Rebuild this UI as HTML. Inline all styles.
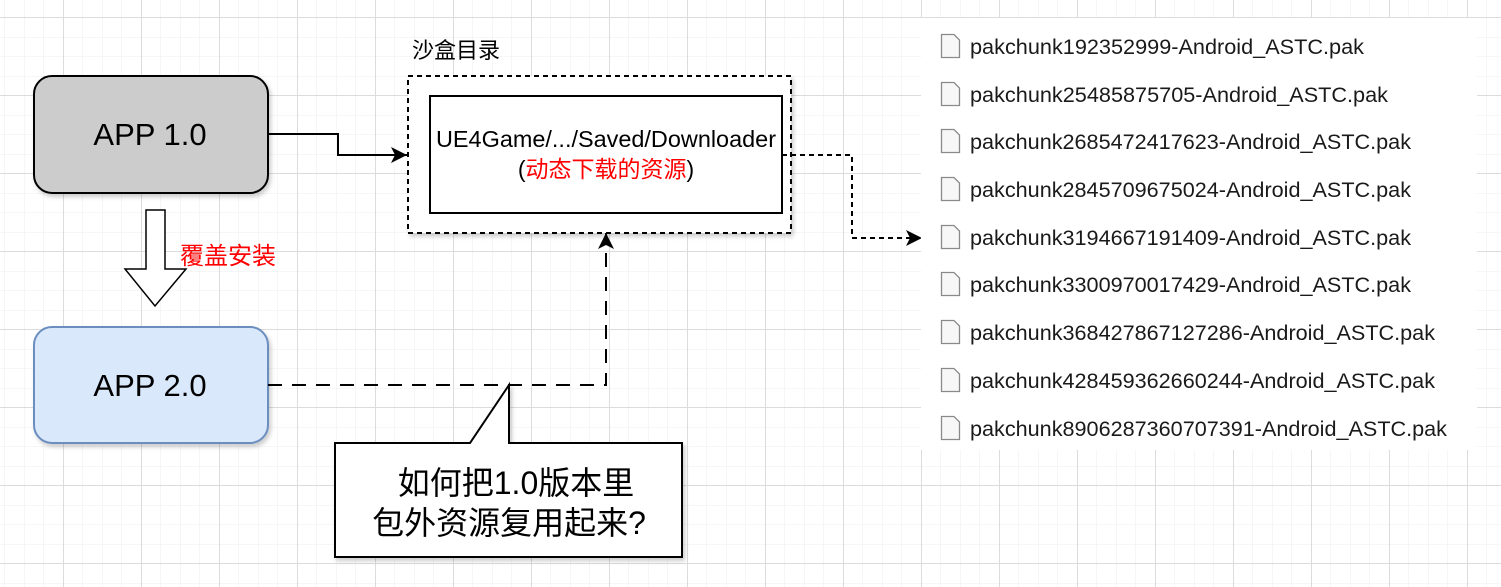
<!DOCTYPE html>
<html><head><meta charset="utf-8"><style>
html,body{margin:0;padding:0;background:#fff;}
svg{display:block;}
text{font-family:"Liberation Sans","Noto Sans CJK SC",sans-serif;}
</style></head><body>
<svg width="1501" height="587" viewBox="0 0 1501 587" xmlns="http://www.w3.org/2000/svg">
<defs>
<pattern id="minor" x="4.5" y="-2" width="19.5" height="19.5" patternUnits="userSpaceOnUse">
<path d="M0 0H19.5M0 0V19.5" stroke="#eeeeee" stroke-width="1" fill="none"/>
</pattern>
<pattern id="major" x="63" y="17" width="78" height="78" patternUnits="userSpaceOnUse">
<path d="M0.5 0V78M0 0.5H78" stroke="#dcdcdc" stroke-width="1" fill="none"/>
</pattern>
<filter id="sh" x="-10%" y="-10%" width="130%" height="130%"><feDropShadow dx="2" dy="3" stdDeviation="2" flood-color="#000" flood-opacity="0.2"/></filter>
<marker id="ar" markerWidth="18" markerHeight="16" refX="16" refY="8" orient="auto" markerUnits="userSpaceOnUse">
<path d="M0 0 L16 8 L0 16 L4 8 Z" fill="#000"/>
</marker>
</defs>
<rect width="1501" height="587" fill="#fff"/>
<rect width="1501" height="587" fill="url(#minor)"/>
<rect width="1501" height="587" fill="url(#major)"/>

<!-- APP 1.0 -->
<rect x="34" y="76" width="234" height="117" rx="18" fill="#cccccc" stroke="#000" stroke-width="2" filter="url(#sh)"/>
<text x="150" y="145" font-size="31" text-anchor="middle">APP 1.0</text>

<!-- APP 2.0 -->
<rect x="34" y="327" width="234" height="116" rx="18" fill="#dae8fc" stroke="#6c8ebf" stroke-width="2" filter="url(#sh)"/>
<text x="150" y="396" font-size="31" text-anchor="middle">APP 2.0</text>

<!-- hollow arrow -->
<path d="M146 210 H165 V269 H186 L155 306 L125 269 H146 Z" fill="#fff" stroke="#000" stroke-width="1.5"/>
<text x="180" y="264" font-size="24" fill="#ff0000">覆盖安装</text>

<!-- sandbox -->
<text x="412" y="58" font-size="22">沙盒目录</text>
<rect x="408" y="76" width="383" height="157" fill="#fff" stroke="#000" stroke-width="2" stroke-dasharray="5 4" filter="url(#sh)"/>
<rect x="430" y="96" width="352" height="117" fill="#fff" stroke="#000" stroke-width="2"/>
<text x="606" y="147" font-size="23" text-anchor="middle" textLength="340" lengthAdjust="spacingAndGlyphs">UE4Game/.../Saved/Downloader</text>
<text x="606" y="177" font-size="23" text-anchor="middle">(<tspan fill="#ff0000">动态下载的资源</tspan>)</text>

<!-- arrows -->
<path d="M268 134 H338 V155 H407" fill="none" stroke="#000" stroke-width="2" marker-end="url(#ar)"/>
<path d="M782 155 H852 V238 H922" fill="none" stroke="#000" stroke-width="2" stroke-dasharray="5 4" marker-end="url(#ar)"/>
<path d="M268 385 H606 V233" fill="none" stroke="#000" stroke-width="2" stroke-dasharray="14 10" marker-end="url(#ar)"/>

<!-- callout -->
<path d="M335 443 H470 L509 385 V443 H682 V557 H335 Z" fill="#fff" stroke="#000" stroke-width="2" filter="url(#sh)"/>
<text x="516" y="494" font-size="32" text-anchor="middle">如何把1.0版本里</text>
<text x="509" y="534" font-size="32" text-anchor="middle">包外资源复用起来?</text>

<!-- file list panel -->
<rect x="921" y="18" width="556" height="432" fill="#fff"/>
<g fill="#f7f7f7" stroke="#8a8a8a" stroke-width="1.3">
<path d="M941.5 34.5 H954 L959.5 40 V57.5 H941.5 Z"/>
<path d="M941.5 82.5 H954 L959.5 88 V105.5 H941.5 Z"/>
<path d="M941.5 129.5 H954 L959.5 135 V152.5 H941.5 Z"/>
<path d="M941.5 177.5 H954 L959.5 183 V200.5 H941.5 Z"/>
<path d="M941.5 225.5 H954 L959.5 231 V248.5 H941.5 Z"/>
<path d="M941.5 272.5 H954 L959.5 278 V295.5 H941.5 Z"/>
<path d="M941.5 320.5 H954 L959.5 326 V343.5 H941.5 Z"/>
<path d="M941.5 368.5 H954 L959.5 374 V391.5 H941.5 Z"/>
<path d="M941.5 416.5 H954 L959.5 422 V439.5 H941.5 Z"/>
</g>
<g font-size="21" fill="#1a1a1a" lengthAdjust="spacingAndGlyphs">
<text x="970" y="54" textLength="394" lengthAdjust="spacingAndGlyphs">pakchunk192352999-Android_ASTC.pak</text>
<text x="970" y="102" textLength="418" lengthAdjust="spacingAndGlyphs">pakchunk25485875705-Android_ASTC.pak</text>
<text x="970" y="149" textLength="441" lengthAdjust="spacingAndGlyphs">pakchunk2685472417623-Android_ASTC.pak</text>
<text x="970" y="197" textLength="441" lengthAdjust="spacingAndGlyphs">pakchunk2845709675024-Android_ASTC.pak</text>
<text x="970" y="245" textLength="441" lengthAdjust="spacingAndGlyphs">pakchunk3194667191409-Android_ASTC.pak</text>
<text x="970" y="292" textLength="441" lengthAdjust="spacingAndGlyphs">pakchunk3300970017429-Android_ASTC.pak</text>
<text x="970" y="340" textLength="465" lengthAdjust="spacingAndGlyphs">pakchunk368427867127286-Android_ASTC.pak</text>
<text x="970" y="388" textLength="465" lengthAdjust="spacingAndGlyphs">pakchunk428459362660244-Android_ASTC.pak</text>
<text x="970" y="436" textLength="477" lengthAdjust="spacingAndGlyphs">pakchunk8906287360707391-Android_ASTC.pak</text>
</g>
</svg>
</body></html>
